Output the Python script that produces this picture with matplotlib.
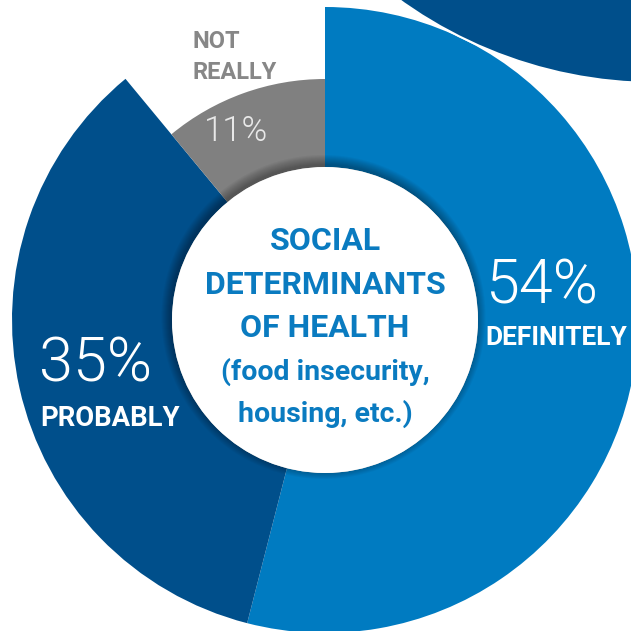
import matplotlib
matplotlib.use("Agg")
import matplotlib.pyplot as plt
from matplotlib.patches import Circle
from matplotlib import font_manager as fm

# ---- data ----
categories = ["DEFINITELY", "PROBABLY", "NOT\nREALLY"]
values = [54, 35, 11]
pct_labels = ["54%", "35%", "11%"]
center_title = ["SOCIAL", "DETERMINANTS", "OF HEALTH", "(food insecurity,", "housing, etc.)"]

# ---- styles ----
colors = ["#007bc1", "#004f8b", "#808080"]
W = H = 631
avail = {f.name for f in fm.fontManager.ttflist}
FONT = "Roboto" if "Roboto" in avail else "DejaVu Sans"

fig = plt.figure(figsize=(W / 100, H / 100), dpi=100)
ax = fig.add_axes([0, 0, 1, 1])

cx, cy = 325, H - 320
r_out, r_in = 313, 153
wedges, _ = ax.pie(values, colors=colors, startangle=90, counterclock=False,
                   radius=r_out, center=(cx, cy),
                   wedgeprops=dict(width=r_out - r_in, linewidth=0))
# smaller outer radius for the "not really" slice
wedges[2].set_radius(241)
wedges[2].set_width(241 - r_in)

# partial dark circle at top-right (neighbouring graphic)
ax.add_patch(Circle((656, H + 355), 438, facecolor="#004f8b", edgecolor="white",
                    linewidth=1.5, zorder=3))

# shadow for the central white disc
for i in range(10):
    ax.add_patch(Circle((cx - 1.5, cy + 3), r_in + 9 - i, facecolor="black",
                        edgecolor="none", alpha=0.035, zorder=4))
ax.add_patch(Circle((cx, cy), r_in, facecolor="white", edgecolor="none", zorder=5))

# centre text
ys = [241, 285, 328, 372, 414]
sizes = [23, 23, 23, 20.5, 20.5]
for t, y, s in zip(center_title, ys, sizes):
    ax.text(cx, H - y, t, ha="center", va="center", fontsize=s, fontweight="bold",
            color="#0a7bc0", family=FONT, zorder=6)

# slice labels
ax.text(541, H - 286, pct_labels[0], ha="center", va="center", fontsize=44,
        fontweight=300, color="white", family=FONT, zorder=6)
ax.text(485, H - 338, categories[0], ha="left", va="center", fontsize=19,
        fontweight="bold", color="white", family=FONT, zorder=6)
ax.text(96, H - 365, pct_labels[1], ha="center", va="center", fontsize=44,
        fontweight=300, color="white", family=FONT, zorder=6)
ax.text(40, H - 419, categories[1], ha="left", va="center", fontsize=19.8,
        fontweight="bold", color="white", family=FONT, zorder=6)
ax.text(236, H - 131, pct_labels[2], ha="center", va="center", fontsize=25,
        fontweight=300, color="#e8e8e8", family=FONT, zorder=6)
ax.text(193, H - 57, categories[2], ha="left", va="center", fontsize=17,
        fontweight="bold", color="#878787", family=FONT, linespacing=1.4, zorder=6)

ax.set_xlim(0, W)
ax.set_ylim(0, H)
ax.set_aspect("equal")
ax.axis("off")
fig.savefig("out.png", dpi=100, facecolor="white")
